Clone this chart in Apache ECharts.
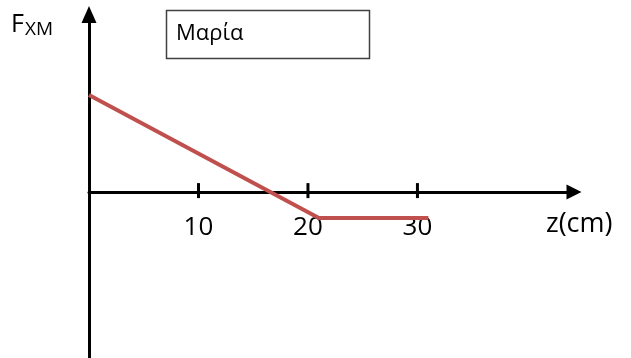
<!DOCTYPE html>
<html>
<head>
<meta charset="utf-8">
<script src="https://cdn.jsdelivr.net/npm/echarts@6/dist/echarts.min.js"></script>
<style>
  html, body { margin: 0; padding: 0; background: #fff; }
  #chart { width: 631px; height: 358px; }
</style>
</head>
<body>
<div id="chart"></div>
<script>
// Force F_XM against position z (cm)
const zValues = [0, 21, 31];
const forceValues = [3.73, -1, -1];
const tickLabels = [10, 20, 30];
const legendName = 'Μαρία';

const FONT = "'Open Sans', 'Noto Sans', sans-serif";

const chart = echarts.init(document.getElementById('chart'), null, { renderer: 'canvas' });

chart.setOption({
  animation: false,
  backgroundColor: '#ffffff',
  grid: { left: 89, right: 57, top: 14.5, bottom: 0, outerBoundsMode: 'none', containLabel: false },
  xAxis: {
    type: 'value',
    min: 0,
    max: 44.3,
    axisLine: {
      show: true,
      onZero: true,
      symbol: ['none', 'triangle'],
      symbolSize: [15, 15],
      lineStyle: { color: '#000', width: 3 }
    },
    axisTick: { show: false },
    splitLine: { show: false },
    axisLabel: { show: false }
  },
  yAxis: {
    type: 'value',
    min: -6.38,
    max: 6.83,
    axisLine: {
      show: true,
      symbol: ['none', 'triangle'],
      symbolSize: [15, 17],
      lineStyle: { color: '#000', width: 3 }
    },
    axisTick: { show: false },
    axisLabel: { show: false },
    splitLine: { show: false }
  },
  series: [
    {
      // tick marks crossing the z axis, each carrying its value label
      name: 'ticks',
      type: 'scatter',
      data: tickLabels.map(v => [v, 0]),
      symbol: 'rect',
      symbolSize: [3, 15],
      symbolOffset: [0, -1.5],
      itemStyle: { color: '#000', opacity: 1 },
      label: {
        show: true,
        position: 'bottom',
        distance: 16,
        formatter: p => String(p.value[0]),
        color: '#000',
        opacity: 1,
        fontSize: 26,
        fontFamily: FONT
      },
      silent: true,
      z: 3
    },
    {
      name: legendName,
      type: 'line',
      data: zValues.map((z, i) => [z, forceValues[i]]),
      symbol: 'none',
      lineStyle: { color: '#C0504D', width: 4, join: 'miter' },
      z: 4
    }
  ],
  graphic: [
    {
      type: 'text',
      left: 11, top: 12,
      style: { text: 'F', fontSize: 25, fontFamily: FONT, fill: '#000' }
    },
    {
      type: 'text',
      left: 25, top: 20,
      style: { text: 'XM', fontSize: 19, fontFamily: FONT, fill: '#000' }
    },
    {
      type: 'text',
      left: 546, top: 211,
      style: { text: 'z(cm)', fontSize: 27, fontFamily: FONT, fill: '#000' }
    },
    {
      type: 'rect',
      shape: { x: 166.5, y: 10.5, width: 203, height: 48 },
      style: { fill: '#fff', stroke: '#404040', lineWidth: 1.5 }
    },
    {
      type: 'text',
      left: 176, top: 23,
      style: { text: legendName, fontSize: 22, fontFamily: FONT, fill: '#000' }
    }
  ]
});
</script>
</body>
</html>
